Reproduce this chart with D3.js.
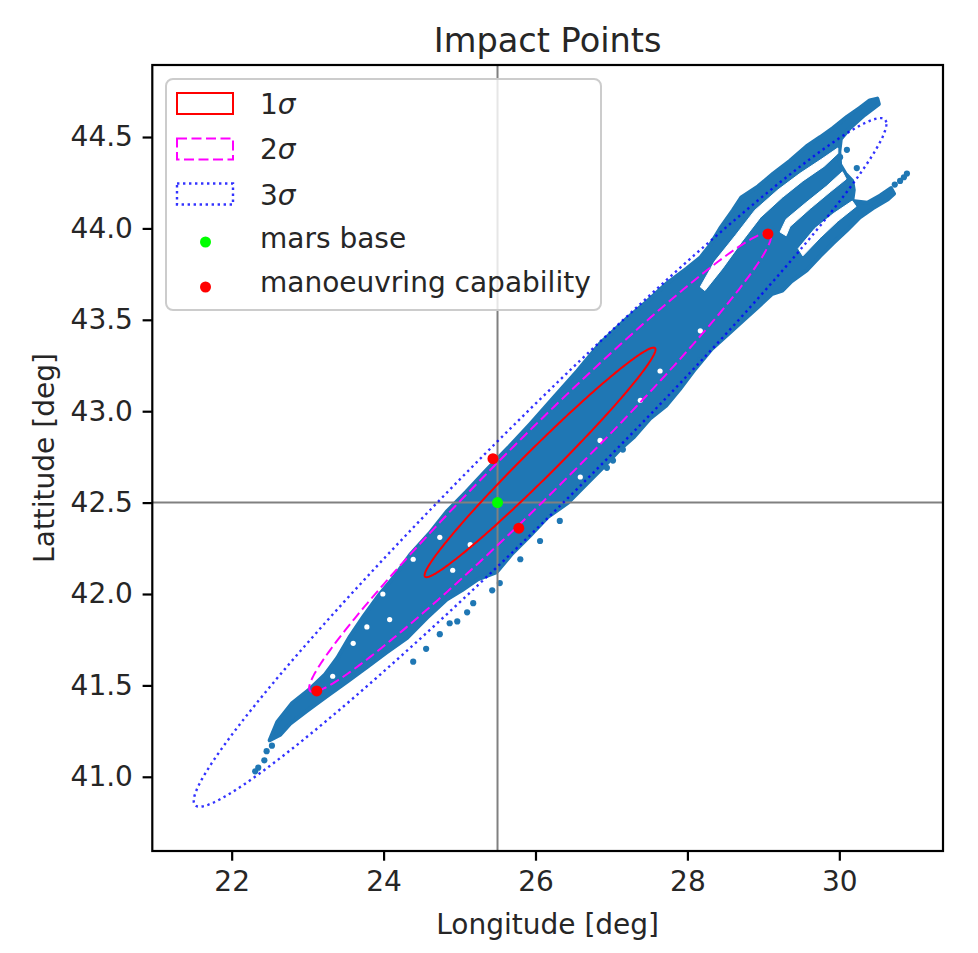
<!DOCTYPE html>
<html><head><meta charset="utf-8">
<script src="https://cdn.jsdelivr.net/npm/d3@7"></script>
<style>body{margin:0;background:#fff;} text{font-family:"DejaVu Sans",sans-serif;fill:#262626;}</style>
</head><body><svg id="c" width="978" height="953"></svg>
<script>
// ---------- data ----------
const xTicks = [22, 24, 26, 28, 30];
const yTicks = [41.0, 41.5, 42.0, 42.5, 43.0, 43.5, 44.0, 44.5];
const xDomain = [20.955, 31.365];
const yDomain = [40.594, 44.894];
const refLon = 25.5, refLat = 42.5;
const marsBase = [[25.5, 42.5]];
const manoeuvring = [[23.12, 41.47], [29.06, 43.97], [25.44, 42.74], [25.78, 42.36]];
const ellipseCenter = [26.06, 42.72];
const ellipseSemiMajor = 1.641, ellipseSemiMinor = 0.1066, ellipseAngleDeg = 22.2;
const sigmaLevels = [1, 2, 3];
const legendLabels = ["1", "2", "3", "mars base", "manoeuvring capability"];

// outline of the dense impact cloud, streaks included (lon, lat)
const cloudOutline = [[22.50,41.20],[22.60,41.30],[22.79,41.40],[23.03,41.48],[23.23,41.56],[23.39,41.65],[23.56,41.77],[23.74,41.88],[23.95,42.00],[24.15,42.10],[24.36,42.22],[24.60,42.33],[24.83,42.45],[25.09,42.56],[25.36,42.68],[25.64,42.80],[25.93,42.93],[26.23,43.07],[26.55,43.22],[26.85,43.37],[27.21,43.51],[27.44,43.59],[27.73,43.70],[27.99,43.78],
  [28.17,43.84],[28.30,43.91],[28.43,44.00],[28.60,44.10],[28.71,44.17],[28.93,44.23],[29.13,44.30],[29.35,44.37],[29.57,44.45],[29.75,44.50],[29.92,44.55],[30.10,44.61],[30.27,44.66],[30.40,44.70],[30.50,44.71],
  [30.52,44.68],[30.33,44.62],[30.14,44.55],[30.02,44.49],[30.00,44.42],[30.01,44.35],[30.08,44.30],[30.17,44.26],[30.19,44.21],[30.17,44.15],[30.37,44.14],[30.54,44.18],[30.68,44.22],[30.72,44.19],
  [30.64,44.16],[30.44,44.11],[30.27,44.06],[30.10,43.99],[29.92,43.92],[29.75,43.85],[29.57,43.77],[29.37,43.71],[29.25,43.66],[29.11,43.64],[28.93,43.57],
  [28.77,43.51],[28.56,43.43],[28.32,43.34],[28.10,43.23],[27.90,43.12],[27.72,43.03],[27.51,42.96],[27.30,42.86],[27.11,42.79],[26.93,42.71],[26.69,42.61],[26.43,42.50],[26.16,42.42],[25.93,42.32],[25.69,42.22],[25.49,42.12],[25.24,42.08],[25.03,42.02],[24.83,41.97],[24.57,41.87],[24.31,41.76],[24.04,41.68],[23.78,41.60],[23.52,41.52],[23.25,41.44],[22.99,41.36],[22.77,41.29],[22.64,41.23]];
// empty lanes separating the streaks in the upper right (lon, lat)
const gapAB = [[28.17,43.68],[28.36,43.82],[28.63,43.96],[28.89,44.10],[29.19,44.21],[29.48,44.30],[29.77,44.38],[29.98,44.44],[29.98,44.41],[29.80,44.34],[29.52,44.26],[29.25,44.17],[28.96,44.06],[28.72,43.93],[28.46,43.78],[28.23,43.66]];
const gapBC = [[29.22,43.98],[29.30,44.05],[29.56,44.14],[29.83,44.23],[30.04,44.31],[30.09,44.27],[29.88,44.20],[29.62,44.11],[29.35,44.01],[29.30,43.96]];
const gapCD = [[29.46,43.89],[29.68,44.00],[29.92,44.08],[30.17,44.15],[30.22,44.12],[29.98,44.04],[29.75,43.95],[29.52,43.85]];
// small empty spots inside the cloud
const emptySpots = [[23.99,42.00],[23.78,41.82],[24.08,41.86],[24.39,42.19],[24.74,42.31],[24.91,42.13],[23.60,41.73],[23.33,41.55],[26.59,42.64],[26.85,42.84],[27.38,43.06],[27.64,43.22],[28.17,43.44],[25.14,42.27]];
// isolated impact points outside the dense cloud
const sparsePoints = [[30.73,44.24],[30.80,44.26],[30.85,44.28],[30.89,44.30],[30.10,44.43],[30.01,44.39],[30.23,44.33],
  [22.53,41.17],[22.46,41.14],[22.43,41.09],[22.35,41.05],[22.31,41.03],
  [25.53,42.06],[25.43,42.02],[25.18,41.95],[25.10,41.90],[24.97,41.85],[24.87,41.84],[24.74,41.78],[24.56,41.70],[24.39,41.63],
  [26.94,42.69],[27.02,42.73],[27.15,42.79],[27.81,43.12],[27.90,43.15],[28.17,43.28],
  [26.32,42.40],[26.06,42.29],[25.80,42.19]];

// ---------- drawing ----------
const svg = d3.select("#c");
const L = 152.3, R = 943, T = 65, B = 851;
const x = d3.scaleLinear().domain(xDomain).range([L, R]);
const y = d3.scaleLinear().domain(yDomain).range([B, T]);
const blue = "#1f77b4";

svg.append("rect").attr("width", 978).attr("height", 953).attr("fill", "#fff");
svg.append("defs").append("clipPath").attr("id", "clip").append("rect")
  .attr("x", L).attr("y", T).attr("width", R - L).attr("height", B - T);
const g = svg.append("g").attr("clip-path", "url(#clip)");

const poly = d3.line().x(d => x(d[0])).y(d => y(d[1])).curve(d3.curveLinearClosed);
g.append("path").attr("d", poly(cloudOutline)).attr("fill", blue).attr("stroke", blue)
  .attr("stroke-width", 4).attr("stroke-linejoin", "round");
[gapAB, gapBC, gapCD].forEach(p => {
  g.append("path").attr("d", poly(p)).attr("fill", "#fff").attr("stroke", "#fff")
    .attr("stroke-width", 1).attr("stroke-linejoin", "round");
});
g.selectAll("circle.es").data(emptySpots).join("circle").attr("class", "es")
  .attr("cx", d => x(d[0])).attr("cy", d => y(d[1])).attr("r", 2.6).attr("fill", "#fff");
g.selectAll("circle.sp").data(sparsePoints).join("circle").attr("class", "sp")
  .attr("cx", d => x(d[0])).attr("cy", d => y(d[1])).attr("r", 3.1).attr("fill", blue);

// reference lines
g.append("line").attr("x1", x(refLon)).attr("x2", x(refLon)).attr("y1", T).attr("y2", B)
  .attr("stroke", "#808080").attr("stroke-width", 2);
g.append("line").attr("x1", L).attr("x2", R).attr("y1", y(refLat)).attr("y2", y(refLat))
  .attr("stroke", "#808080").attr("stroke-width", 2);

// sigma ellipses
const th = ellipseAngleDeg * Math.PI / 180;
const ellStyles = [
  {stroke: "#ff0000", dash: null},
  {stroke: "#ff00ff", dash: "10,4.5"},
  {stroke: "#0000ff", dash: "2.4,3.6"}
];
sigmaLevels.forEach((k, i) => {
  const pts = d3.range(0, 360, 1).map(a => {
    const t = a * Math.PI / 180;
    const ex = k * ellipseSemiMajor * Math.cos(t), ey = k * ellipseSemiMinor * Math.sin(t);
    return [ellipseCenter[0] + ex * Math.cos(th) - ey * Math.sin(th),
            ellipseCenter[1] + ex * Math.sin(th) + ey * Math.cos(th)];
  });
  g.append("path").attr("d", poly(pts)).attr("fill", "none")
    .attr("stroke", ellStyles[i].stroke).attr("stroke-width", i === 2 ? 2.4 : 2)
    .attr("stroke-opacity", i === 2 ? 0.8 : 1)
    .attr("stroke-dasharray", ellStyles[i].dash);
});

g.selectAll("circle.mb").data(marsBase).join("circle").attr("class", "mb")
  .attr("cx", d => x(d[0])).attr("cy", d => y(d[1])).attr("r", 5.5).attr("fill", "#00ff00");
g.selectAll("circle.mc").data(manoeuvring).join("circle").attr("class", "mc")
  .attr("cx", d => x(d[0])).attr("cy", d => y(d[1])).attr("r", 5.5).attr("fill", "#ff0000");

// axes
const xAxis = svg.append("g").attr("transform", `translate(0,${B})`)
  .call(d3.axisBottom(x).tickValues(xTicks).tickSize(9.7).tickPadding(10.5).tickSizeOuter(0).tickFormat(d3.format("d")));
const yAxis = svg.append("g").attr("transform", `translate(${L},0)`)
  .call(d3.axisLeft(y).tickValues(yTicks).tickSize(9.7).tickPadding(9.7).tickSizeOuter(0).tickFormat(d3.format(".1f")));
[xAxis, yAxis].forEach(a => {
  a.select(".domain").remove();
  a.selectAll(".tick line").attr("stroke", "#000").attr("stroke-width", 2.2);
  a.selectAll(".tick text").attr("font-size", 28).attr("font-family", "DejaVu Sans").attr("fill", "#262626");
});
svg.append("rect").attr("x", L).attr("y", T).attr("width", R - L).attr("height", B - T)
  .attr("fill", "none").attr("stroke", "#000").attr("stroke-width", 2.2);

// labels
svg.append("text").attr("x", (L + R) / 2).attr("y", 52).attr("text-anchor", "middle")
  .attr("font-size", 33.6).text("Impact Points");
svg.append("text").attr("x", (L + R) / 2).attr("y", 934).attr("text-anchor", "middle")
  .attr("font-size", 28).text("Longitude [deg]");
svg.append("text").attr("transform", `translate(54,${(T + B) / 2}) rotate(-90)`).attr("text-anchor", "middle")
  .attr("font-size", 28).text("Lattitude [deg]");

// legend
const lg = svg.append("g");
lg.append("rect").attr("x", 166).attr("y", 79).attr("width", 435).attr("height", 231).attr("rx", 7)
  .attr("fill", "#fff").attr("fill-opacity", 0.8).attr("stroke", "#cccccc").attr("stroke-width", 2);
const rowY = [103.5, 149, 194, 242, 287];
const baseY = [114, 159, 204.5, 248, 292];
sigmaLevels.forEach((k, i) => {
  lg.append("rect").attr("x", 177).attr("y", rowY[i] - 10.5).attr("width", 56).attr("height", 21)
    .attr("fill", "none").attr("stroke", ellStyles[i].stroke).attr("stroke-width", i === 2 ? 2.4 : 2)
    .attr("stroke-opacity", i === 2 ? 0.8 : 1)
    .attr("stroke-dasharray", ellStyles[i].dash);
  const t = lg.append("text").attr("x", 260).attr("y", baseY[i]).attr("font-size", 28);
  t.append("tspan").text(legendLabels[i]);
  t.append("tspan").attr("font-style", "italic").text("σ");
});
lg.append("circle").attr("cx", 205.5).attr("cy", rowY[3]).attr("r", 5.5).attr("fill", "#00ff00");
lg.append("circle").attr("cx", 205.5).attr("cy", rowY[4]).attr("r", 5.5).attr("fill", "#ff0000");
lg.append("text").attr("x", 260).attr("y", baseY[3]).attr("font-size", 28).text(legendLabels[3]);
lg.append("text").attr("x", 260).attr("y", baseY[4]).attr("font-size", 28).text(legendLabels[4]);
</script></body></html>
